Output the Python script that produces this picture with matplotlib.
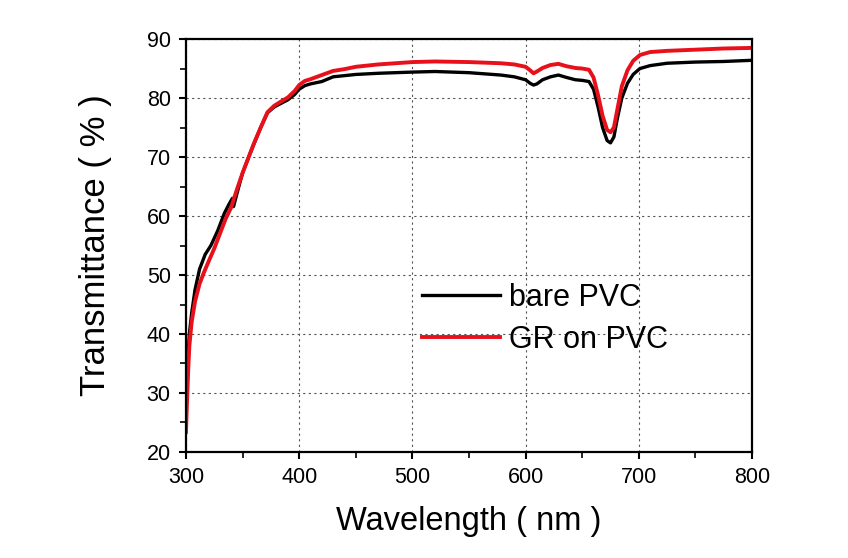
import numpy as np
import matplotlib.pyplot as plt
from matplotlib.ticker import MultipleLocator

plt.rcParams['font.family'] = ['Liberation Sans', 'DejaVu Sans']

# wavelength (nm) / transmittance (%)
wl_bare = [300, 301, 302, 303, 305, 308, 312, 317, 322, 328, 334, 338, 341,
           342, 346, 350, 355, 360, 366, 372, 378, 383, 390, 396, 400, 405,
           410, 420, 430, 440, 450, 470, 500, 520, 550, 578, 590, 600, 604,
           607, 610, 615, 622, 629, 636, 644, 650, 656, 660, 664, 668, 672,
           675, 678, 681, 685, 690, 695, 701, 710, 725, 750, 775, 800]
t_bare = [27.6, 33, 37, 40, 43.5, 47.5, 51, 53.5, 55, 57.5, 60.5, 62, 63,
          61.6, 64.5, 67.3, 69.8, 72.2, 75, 77.5, 78.5, 79, 79.7, 80.6, 81.5, 82.1,
          82.4, 82.8, 83.6, 83.8, 84.0, 84.2, 84.4, 84.5, 84.3, 83.9, 83.6, 83.1, 82.5,
          82.2, 82.4, 83.1, 83.6, 83.9, 83.5, 83.1, 83.0, 82.8, 81.5, 78.5, 75, 72.8,
          72.4, 73.4, 76.5, 80, 82.5, 84, 85.0, 85.5, 85.9, 86.1, 86.2, 86.4]

wl_gr = [300, 301, 302, 303, 305, 308, 312, 316, 320, 325, 330, 335, 340,
         345, 350, 355, 360, 366, 372, 378, 383, 390, 396, 400, 405, 410,
         420, 430, 440, 450, 470, 500, 520, 550, 578, 590, 600, 604, 607,
         610, 615, 622, 629, 636, 644, 650, 656, 660, 664, 668, 672, 675,
         678, 681, 685, 690, 695, 701, 710, 725, 750, 775, 800]
t_gr = [23.4, 29, 34, 38, 42, 45.5, 48.5, 50.5, 52.3, 54.5, 57, 59.5, 61.5,
        64.5, 67.3, 69.8, 72.3, 75, 77.6, 78.7, 79.3, 80.1, 81.2, 82.2, 82.9, 83.2,
        83.9, 84.6, 84.9, 85.3, 85.7, 86.1, 86.2, 86.1, 85.9, 85.7, 85.3, 84.7, 84.2,
        84.5, 85.1, 85.6, 85.8, 85.4, 85.1, 85.0, 84.8, 83.5, 80.5, 77, 74.6,
        74.2, 75, 78, 82, 84.7, 86.3, 87.3, 87.8, 88.0, 88.2, 88.4, 88.5]

fig = plt.figure(figsize=(8.48, 5.58), dpi=100)
ax = fig.add_axes([0.2193, 0.19, 0.6675, 0.740])

ax.plot(wl_bare, t_bare, color='black', lw=2.4, label='bare PVC')
ax.plot(wl_gr, t_gr, color='#e8101a', lw=2.8, label='GR on PVC')

ax.set_xlim(300, 800)
ax.set_ylim(20, 90)
ax.xaxis.set_major_locator(MultipleLocator(100))
ax.xaxis.set_minor_locator(MultipleLocator(50))
ax.yaxis.set_major_locator(MultipleLocator(10))
ax.yaxis.set_minor_locator(MultipleLocator(5))
ax.tick_params(which='major', direction='out', length=5, width=1.5,
               labelsize=15.5, pad=6)
ax.tick_params(which='minor', direction='out', length=4, width=1.2)
for s in ax.spines.values():
    s.set_linewidth(1.6)
ax.grid(True, which='major', color='#555555', linestyle=(0, (2, 3)), linewidth=0.8)

ax.set_xlabel('Wavelength ( nm )', fontsize=23.5)
ax.set_ylabel('Transmittance ( % )', fontsize=25)
ax.xaxis.set_label_coords(0.5, -0.13)
ax.yaxis.set_label_coords(-0.13, 0.5)

ax.legend(loc='center left', bbox_to_anchor=(0.417, 0.322), frameon=False,
          fontsize=22, handlelength=2.55, handletextpad=0.3, labelspacing=0.4,
          borderpad=0, borderaxespad=0)

fig.savefig('out.png', dpi=100)
